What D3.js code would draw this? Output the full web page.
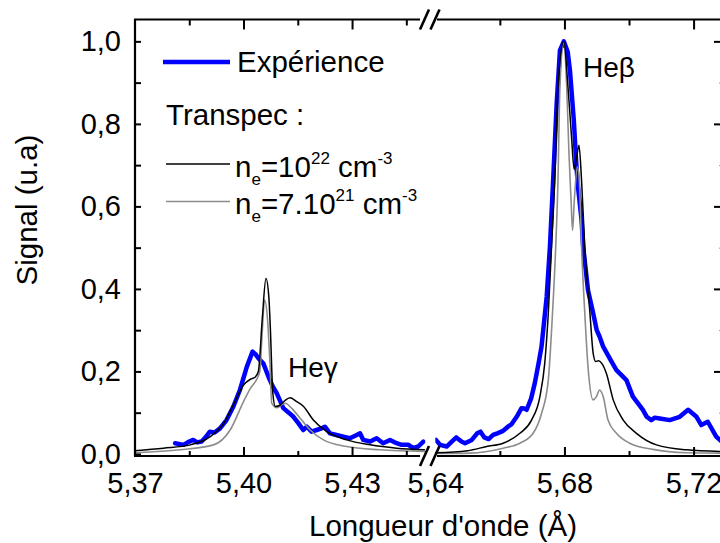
<!DOCTYPE html>
<html><head><meta charset="utf-8">
<script src="https://cdn.jsdelivr.net/npm/d3@7"></script>
<style>
html,body{margin:0;padding:0;background:#fff;}
svg text{font-family:Arial,"Liberation Sans",sans-serif;fill:#000;}
</style></head>
<body><svg id="c" width="720" height="543"></svg>
<script>
// ---- Data (wavelength Å, normalised signal) ----
const expLeft = [[5.3811,0.026],[5.3834,0.022],[5.3850,0.030],[5.3861,0.034],[5.3872,0.028],[5.3884,0.030],[5.3895,0.040],[5.3907,0.054],[5.3920,0.052],[5.3935,0.062],[5.3953,0.082],[5.3972,0.115],[5.3990,0.155],[5.4009,0.211],[5.4025,0.248],[5.4033,0.242],[5.4041,0.232],[5.4055,0.219],[5.4069,0.187],[5.4080,0.165],[5.4092,0.147],[5.4110,0.111],[5.4125,0.100],[5.4138,0.090],[5.4152,0.074],[5.4165,0.058],[5.4175,0.066],[5.4188,0.054],[5.4202,0.058],[5.4216,0.062],[5.4225,0.066],[5.4239,0.050],[5.4257,0.046],[5.4276,0.042],[5.4294,0.038],[5.4313,0.046],[5.4322,0.050],[5.4331,0.034],[5.4350,0.030],[5.4368,0.038],[5.4386,0.026],[5.4405,0.034],[5.4423,0.026],[5.4437,0.022],[5.4456,0.022],[5.4469,0.014],[5.4483,0.018],[5.4497,0.030]];
const expRight = [[5.6402,0.034],[5.6415,0.022],[5.6435,0.018],[5.6451,0.030],[5.6465,0.040],[5.6481,0.030],[5.6492,0.026],[5.6513,0.034],[5.6530,0.050],[5.6540,0.054],[5.6552,0.040],[5.6565,0.036],[5.6579,0.046],[5.6592,0.050],[5.6610,0.056],[5.6625,0.066],[5.6636,0.072],[5.6652,0.090],[5.6667,0.111],[5.6675,0.110],[5.6683,0.107],[5.6697,0.135],[5.6708,0.171],[5.6720,0.220],[5.6729,0.260],[5.6745,0.381],[5.6755,0.502],[5.6765,0.663],[5.6776,0.850],[5.6786,0.978],[5.6798,1.000],[5.6810,0.975],[5.6817,0.930],[5.6829,0.809],[5.6837,0.700],[5.6842,0.647],[5.6853,0.567],[5.6858,0.502],[5.6873,0.397],[5.6889,0.341],[5.6900,0.300],[5.6909,0.284],[5.6920,0.260],[5.6945,0.225],[5.6961,0.203],[5.6992,0.179],[5.7012,0.139],[5.7043,0.107],[5.7055,0.090],[5.7069,0.082],[5.7080,0.088],[5.7095,0.086],[5.7126,0.082],[5.7157,0.090],[5.7183,0.107],[5.7209,0.090],[5.7224,0.070],[5.7244,0.078],[5.7270,0.042],[5.7290,0.028]];
const ne22Left = [[5.3700,0.008],[5.3779,0.014],[5.3853,0.022],[5.3908,0.042],[5.3945,0.074],[5.3972,0.119],[5.4000,0.167],[5.4019,0.181],[5.4032,0.186],[5.4041,0.200],[5.4052,0.330],[5.4062,0.425],[5.4070,0.380],[5.4074,0.308],[5.4081,0.147],[5.4088,0.115],[5.4101,0.118],[5.4115,0.130],[5.4129,0.136],[5.4145,0.128],[5.4166,0.115],[5.4193,0.082],[5.4230,0.054],[5.4285,0.034],[5.4350,0.022],[5.4423,0.014],[5.4500,0.010]];
const ne21Left = [[5.3700,0.003],[5.3825,0.010],[5.3917,0.022],[5.3963,0.058],[5.4000,0.127],[5.4019,0.159],[5.4037,0.182],[5.4045,0.200],[5.4052,0.300],[5.4058,0.373],[5.4066,0.330],[5.4073,0.220],[5.4078,0.123],[5.4092,0.112],[5.4104,0.118],[5.4115,0.123],[5.4134,0.110],[5.4157,0.086],[5.4184,0.058],[5.4221,0.034],[5.4285,0.018],[5.4377,0.010],[5.4500,0.006]];
const ne22Right = [[5.6400,0.003],[5.6500,0.008],[5.6559,0.018],[5.6610,0.026],[5.6662,0.050],[5.6698,0.082],[5.6724,0.139],[5.6739,0.220],[5.6750,0.341],[5.6760,0.502],[5.6770,0.663],[5.6780,0.889],[5.6798,1.000],[5.6811,0.889],[5.6822,0.768],[5.6830,0.690],[5.6838,0.720],[5.6845,0.748],[5.6853,0.663],[5.6863,0.502],[5.6879,0.341],[5.6889,0.244],[5.6897,0.224],[5.6906,0.226],[5.6915,0.220],[5.6930,0.195],[5.6951,0.131],[5.6982,0.082],[5.7023,0.050],[5.7085,0.022],[5.7178,0.010],[5.7290,0.006]];
const ne21Right = [[5.6400,0.001],[5.6507,0.002],[5.6610,0.014],[5.6662,0.026],[5.6703,0.050],[5.6729,0.098],[5.6750,0.179],[5.6763,0.341],[5.6773,0.502],[5.6780,0.663],[5.6786,0.889],[5.6798,0.996],[5.6807,0.889],[5.6814,0.728],[5.6821,0.607],[5.6825,0.542],[5.6831,0.620],[5.6840,0.696],[5.6846,0.663],[5.6853,0.502],[5.6863,0.341],[5.6873,0.211],[5.6889,0.131],[5.6899,0.139],[5.6909,0.155],[5.6920,0.139],[5.6935,0.082],[5.6961,0.050],[5.7002,0.026],[5.7074,0.011],[5.7178,0.003],[5.7290,0.002]];

const xTicksLeftMajor = [5.40, 5.43];
const xTicksLeftMinor = [5.385, 5.415, 5.445];
const xLabelsLeft = [5.37, 5.40, 5.43];
const xTicksRightMajor = [5.68, 5.72];
const xTicksRightMinor = [5.66, 5.70];
const xLabelsRight = [5.64, 5.68, 5.72];
const yTicksMajor = [0, 0.2, 0.4, 0.6, 0.8, 1.0];
const yTicksMinor = [0.1, 0.3, 0.5, 0.7, 0.9];

const xLabelText = "Longueur d'onde (Å)";
const yLabelText = "Signal (u.a)";

// ---- Layout ----
const svg = d3.select("#c");
const L = 135, R = 722, T = 19.5, B = 456;
const xL = d3.scaleLinear().domain([5.37, 5.45]).range([L, 424.4]);
const xR = d3.scaleLinear().domain([5.64, 5.7288]).range([435.3, R]);
const y = d3.scaleLinear().domain([-0.005, 1.053]).range([B, T]);
const comma = f => v => d3.format(f)(v).replace(".", ",");
const FS = 29.5, TFS = 29;

const defs = svg.append("defs");
defs.append("clipPath").attr("id","clipL").append("rect").attr("x",L).attr("y",T).attr("width",xL(5.45)-L+1).attr("height",B-T);
defs.append("clipPath").attr("id","clipR").append("rect").attr("x",xR(5.64)).attr("y",T).attr("width",R-xR(5.64)).attr("height",B-T);

function draw(data, xs, clip, color, w, curve) {
  const line = d3.line().x(d => xs(d[0])).y(d => y(d[1])).curve(curve);
  svg.append("path").attr("clip-path", `url(#${clip})`).attr("d", line(data))
    .attr("fill","none").attr("stroke",color).attr("stroke-width",w)
    .attr("stroke-linejoin","round").attr("stroke-linecap","round");
}
draw(expLeft, xL, "clipL", "#0000ff", 4.5, d3.curveLinear);
draw(expRight, xR, "clipR", "#0000ff", 4.5, d3.curveLinear);
draw(ne21Left, xL, "clipL", "#8c8c8c", 1.6, d3.curveMonotoneX);
draw(ne21Right, xR, "clipR", "#8c8c8c", 1.6, d3.curveMonotoneX);
draw(ne22Left, xL, "clipL", "#000", 1.5, d3.curveMonotoneX);
draw(ne22Right, xR, "clipR", "#000", 1.5, d3.curveMonotoneX);

const ax = svg.append("g").attr("stroke","#000").attr("stroke-width",2.2).attr("fill","none");
ax.append("line").attr("x1",L).attr("x2",L).attr("y1",T).attr("y2",B);
ax.append("line").attr("x1",R).attr("x2",R).attr("y1",T).attr("y2",B);
[B, T].forEach(yy => {
  ax.append("line").attr("x1",L-1).attr("x2",420).attr("y1",yy).attr("y2",yy);
  ax.append("line").attr("x1",437).attr("x2",R+1).attr("y1",yy).attr("y2",yy);
  [424.5, 435].forEach(cx => {
    ax.append("line").attr("x1",cx-4.5).attr("x2",cx+4.5).attr("y1",yy+10).attr("y2",yy-10).attr("stroke-width",2.6);
  });
});

function styleAxis(g) {
  g.select(".domain").remove();
  g.selectAll(".tick line").attr("stroke","#000").attr("stroke-width",2);
  g.selectAll(".tick text").attr("font-size",TFS).attr("font-family","Arial, Liberation Sans, sans-serif").attr("fill","#000");
}
[[xL, xTicksLeftMajor, xTicksLeftMinor, xLabelsLeft],[xR, xTicksRightMajor, xTicksRightMinor, xLabelsRight]].forEach(([xs, maj, min, lab]) => {
  svg.append("g").attr("transform",`translate(0,${B})`).call(d3.axisBottom(xs).tickValues(maj).tickSize(-9).tickFormat("")).call(styleAxis);
  svg.append("g").attr("transform",`translate(0,${B})`).call(d3.axisBottom(xs).tickValues(min).tickSize(-5).tickFormat("")).call(styleAxis);
  const g = svg.append("g").attr("transform",`translate(0,${B})`).call(d3.axisBottom(xs).tickValues(lab).tickSize(0).tickPadding(16).tickFormat(comma(".2f"))).call(styleAxis);
  g.selectAll(".tick line").remove();
  svg.append("g").attr("transform",`translate(0,${T})`).call(d3.axisTop(xs).tickValues(maj).tickSize(-10).tickFormat("")).call(styleAxis);
  svg.append("g").attr("transform",`translate(0,${T})`).call(d3.axisTop(xs).tickValues(min).tickSize(-6).tickFormat("")).call(styleAxis);
});
svg.append("g").attr("transform",`translate(${L},0)`).call(d3.axisLeft(y).tickValues(yTicksMajor).tickSize(-6).tickPadding(14).tickFormat(comma(".1f"))).call(styleAxis);
svg.append("g").attr("transform",`translate(${L},0)`).call(d3.axisLeft(y).tickValues(yTicksMinor).tickSize(-6).tickFormat("")).call(styleAxis);
svg.append("g").attr("transform",`translate(${R},0)`).call(d3.axisRight(y).tickValues(yTicksMajor.filter(v=>v>0)).tickSize(-8).tickFormat("")).call(styleAxis);
const gm = svg.append("g").attr("transform",`translate(${R},0)`).call(d3.axisRight(y).tickValues(yTicksMinor).tickSize(-3).tickFormat("")).call(styleAxis);
gm.selectAll(".tick line").attr("stroke","#999").attr("stroke-width",1);

svg.append("text").attr("x",443).attr("y",536).attr("text-anchor","middle").attr("font-size",FS).text(xLabelText);
svg.append("text").attr("transform","translate(37,210) rotate(-90)").attr("text-anchor","middle").attr("font-size",FS).text(yLabelText);

svg.append("text").attr("x",288).attr("y",377).attr("font-size",28).text("Heγ");
svg.append("text").attr("x",583).attr("y",77).attr("font-size",28).text("Heβ");

const lg = svg.append("g");
lg.append("line").attr("x1",163).attr("x2",230).attr("y1",62).attr("y2",62).attr("stroke","#0000ff").attr("stroke-width",4.5);
lg.append("text").attr("x",237).attr("y",72).attr("font-size",FS).text("Expérience");
lg.append("text").attr("x",166).attr("y",125).attr("font-size",FS).text("Transpec :");
lg.append("line").attr("x1",166).attr("x2",230).attr("y1",164).attr("y2",164).attr("stroke","#000").attr("stroke-width",1.5);
lg.append("line").attr("x1",166).attr("x2",230).attr("y1",201.5).attr("y2",201.5).attr("stroke","#8c8c8c").attr("stroke-width",1.6);
function neLabel(yb, mant, exp) {
  const t = lg.append("text").attr("x",235).attr("y",yb).attr("font-size",FS);
  t.append("tspan").text("n");
  t.append("tspan").attr("font-size",17).attr("dy",8).text("e");
  t.append("tspan").attr("dy",-8).text("=" + mant);
  t.append("tspan").attr("font-size",17).attr("dy",-13).text(exp);
  t.append("tspan").attr("dy",13).text(" cm");
  t.append("tspan").attr("font-size",17).attr("dy",-13).text("-3");
}
neLabel(176.5, "10", "22");
neLabel(214, "7.10", "21");
</script></body></html>
